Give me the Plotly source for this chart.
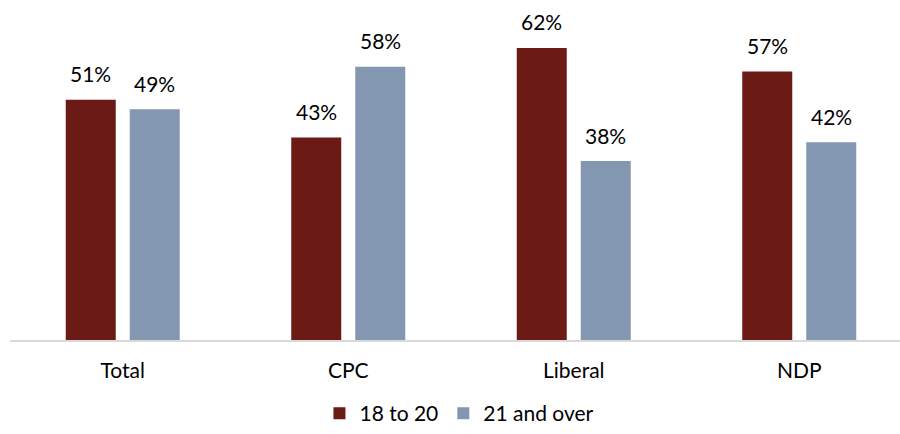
import plotly.graph_objects as go

categories = ["Total", "CPC", "Liberal", "NDP"]
series_names = ["18 to 20", "21 and over"]
values_18_20 = [51, 43, 62, 57]
values_21_over = [49, 58, 38, 42]
colors = ["#6B1A16", "#8497B0"]

FONT = "Lato, Calibri, Carlito, sans-serif"
px_per_unit = 225.5
bar_w = 50 / px_per_unit

fig = go.Figure()
fig.add_trace(go.Bar(x=categories, y=values_18_20, name=series_names[0],
                     marker=dict(color=colors[0], line=dict(width=0)),
                     width=bar_w, offset=-57 / px_per_unit))
fig.add_trace(go.Bar(x=categories, y=values_21_over, name=series_names[1],
                     marker=dict(color=colors[1], line=dict(width=0)),
                     width=bar_w, offset=7 / px_per_unit))

annotations = []
for vals, shift in [(values_18_20, -32), (values_21_over, 32)]:
    for c, v in zip(categories, vals):
        annotations.append(dict(x=c, y=v, text=f"{v}%", showarrow=False,
                                xshift=shift, yshift=26, yanchor="middle",
                                font=dict(family=FONT, size=21, color="#000000")))

fig.update_layout(
    width=900, height=434,
    margin=dict(l=10, r=0, t=10, b=94, autoexpand=False),
    plot_bgcolor="white", paper_bgcolor="white",
    showlegend=True,
    legend=dict(orientation="h", x=0.505, xanchor="center",
                yref="container", y=0, yanchor="bottom",
                font=dict(family=FONT, size=21, color="#000000"),
                traceorder="normal", itemwidth=30, tracegroupgap=0),
    annotations=annotations,
    xaxis=dict(range=[-0.5, -0.5 + 890 / px_per_unit], showgrid=False,
               showline=True, linecolor="#D9D9D9", linewidth=2,
               tickfont=dict(family=FONT, size=21, color="#000000"),
               ticks="", ticklabelstandoff=11, automargin=False),
    yaxis=dict(range=[0, 330 / 4.71], visible=False, showgrid=False,
               zeroline=False, automargin=False),
)
fig.write_html("out.html", config={"displayModeBar": False},
               post_script="document.body.style.margin='0px';document.body.style.padding='0px';")
